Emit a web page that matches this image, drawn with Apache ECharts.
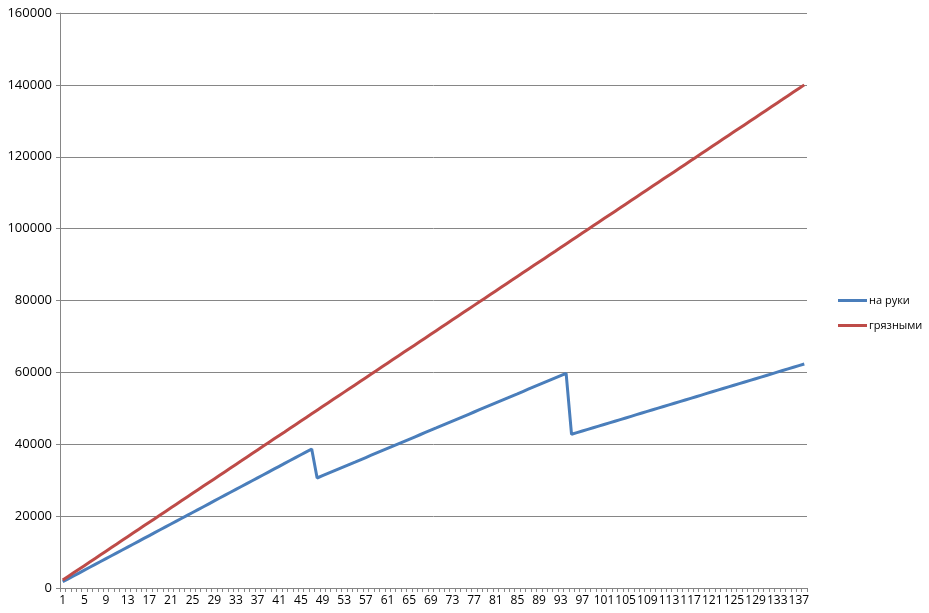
<!DOCTYPE html>
<html>
<head>
<meta charset="utf-8">
<script src="https://cdn.jsdelivr.net/npm/echarts@6/dist/echarts.min.js"></script>
<style>html,body{margin:0;padding:0;background:#fff}#c{width:929px;height:613px}</style>
</head>
<body>
<div id="c"></div>
<script>
const categories = [];
for (let i = 1; i <= 138; i++) categories.push(String(i));

const seriesNames = ['на руки', 'грязными'];

const naRuki = [
1750,2553,3356,4158,4961,5764,6567,7369,8172,8975,
9778,10581,11383,12186,12989,13792,14594,15397,16200,17003,
17806,18608,19411,20214,21017,21820,22622,23425,24228,25031,
25833,26636,27439,28242,29045,29847,30650,31453,32256,33058,
33861,34664,35467,36270,37072,37875,38678,
30609,31242,31876,32509,33142,33776,34409,35042,35676,36309,
36942,37576,38209,38842,39476,40109,40742,41376,42009,42642,
43276,43909,44542,45176,45809,46442,47076,47709,48342,48976,
49609,50242,50876,51509,52142,52776,53409,54042,54676,55309,
55942,56576,57209,57842,58476,59109,59742,
42768,43223,43678,44133,44588,45043,45498,45952,46407,46862,
47317,47772,48227,48682,49137,49592,50047,50502,50957,51412,
51867,52322,52776,53231,53686,54141,54596,55051,55506,55961,
56416,56871,57326,57780,58235,58690,59145,59600,60055,60510,
60965,61420,61875,62330
];

const gryaznymi = [
2200,3206,4212,5218,6223,7229,8235,9241,10247,11253,
12258,13264,14270,15276,16282,17288,18293,19299,20305,21311,
22317,23322,24328,25334,26340,27346,28352,29357,30363,31369,
32375,33381,34387,35392,36398,37404,38410,39416,40422,41428,
42434,43439,44445,45451,46457,47463,48469,49474,50480,51486,
52492,53498,54504,55509,56515,57521,58527,59533,60539,61544,
62550,63556,64562,65568,66574,67579,68585,69591,70597,71603,
72609,73614,74620,75626,76632,77638,78644,79649,80655,81661,
82667,83673,84679,85684,86690,87696,88702,89708,90714,91719,
92726,93731,94737,95743,96749,97755,98761,99766,100772,101778,
102784,103790,104796,105801,106807,107813,108819,109825,110831,111836,
112842,113848,114854,115860,116866,117871,118877,119883,120889,121895,
122901,123906,124912,125918,126924,127930,128936,129941,130947,131953,
132959,133965,134971,135976,136982,137988,138994,140000
];

const yMin = 0, yMax = 160000, yInterval = 20000;

const chart = echarts.init(document.getElementById('c'), null, {renderer: 'canvas'});
const font = '"Open Sans", "DejaVu Sans", sans-serif';
chart.setOption({
  animation: false,
  backgroundColor: '#fff',
  grid: {left: 60, right: 122, top: 13, bottom: 25, containLabel: false},
  legend: {
    orient: 'vertical', left: 833, top: 290, width: 96,
    itemWidth: 29, itemHeight: 3, itemGap: 14,
    icon: 'rect',
    textStyle: {fontFamily: font, fontSize: 11, color: '#000', padding: [0,0,0,-3]},
    data: seriesNames
  },
  xAxis: {
    type: 'category', data: categories, boundaryGap: true,
    axisLine: {lineStyle: {color: '#868686', width: 1}},
    axisTick: {show: true, interval: 0, length: 4, lineStyle: {color: '#868686'}},
    axisLabel: {interval: 3, color: '#000', fontFamily: font, fontSize: 12, margin: 7}
  },
  yAxis: {
    type: 'value', min: yMin, max: yMax, interval: yInterval,
    axisLine: {show: true, lineStyle: {color: '#868686', width: 1}},
    axisTick: {show: true, length: 4, lineStyle: {color: '#868686'}},
    axisLabel: {color: '#000', fontFamily: font, fontSize: 13, margin: 8,
                formatter: function (v) { return String(v); }},
    splitLine: {lineStyle: {color: '#868686', width: 1}}
  },
  series: [
    {name: seriesNames[0], type: 'line', data: naRuki, showSymbol: false, symbol: 'none',
     lineStyle: {color: '#4A7EBB', width: 3}, itemStyle: {color: '#4A7EBB'}},
    {name: seriesNames[1], type: 'line', data: gryaznymi, showSymbol: false, symbol: 'none',
     lineStyle: {color: '#BE4B48', width: 3}, itemStyle: {color: '#BE4B48'}}
  ]
});
</script>
</body>
</html>
